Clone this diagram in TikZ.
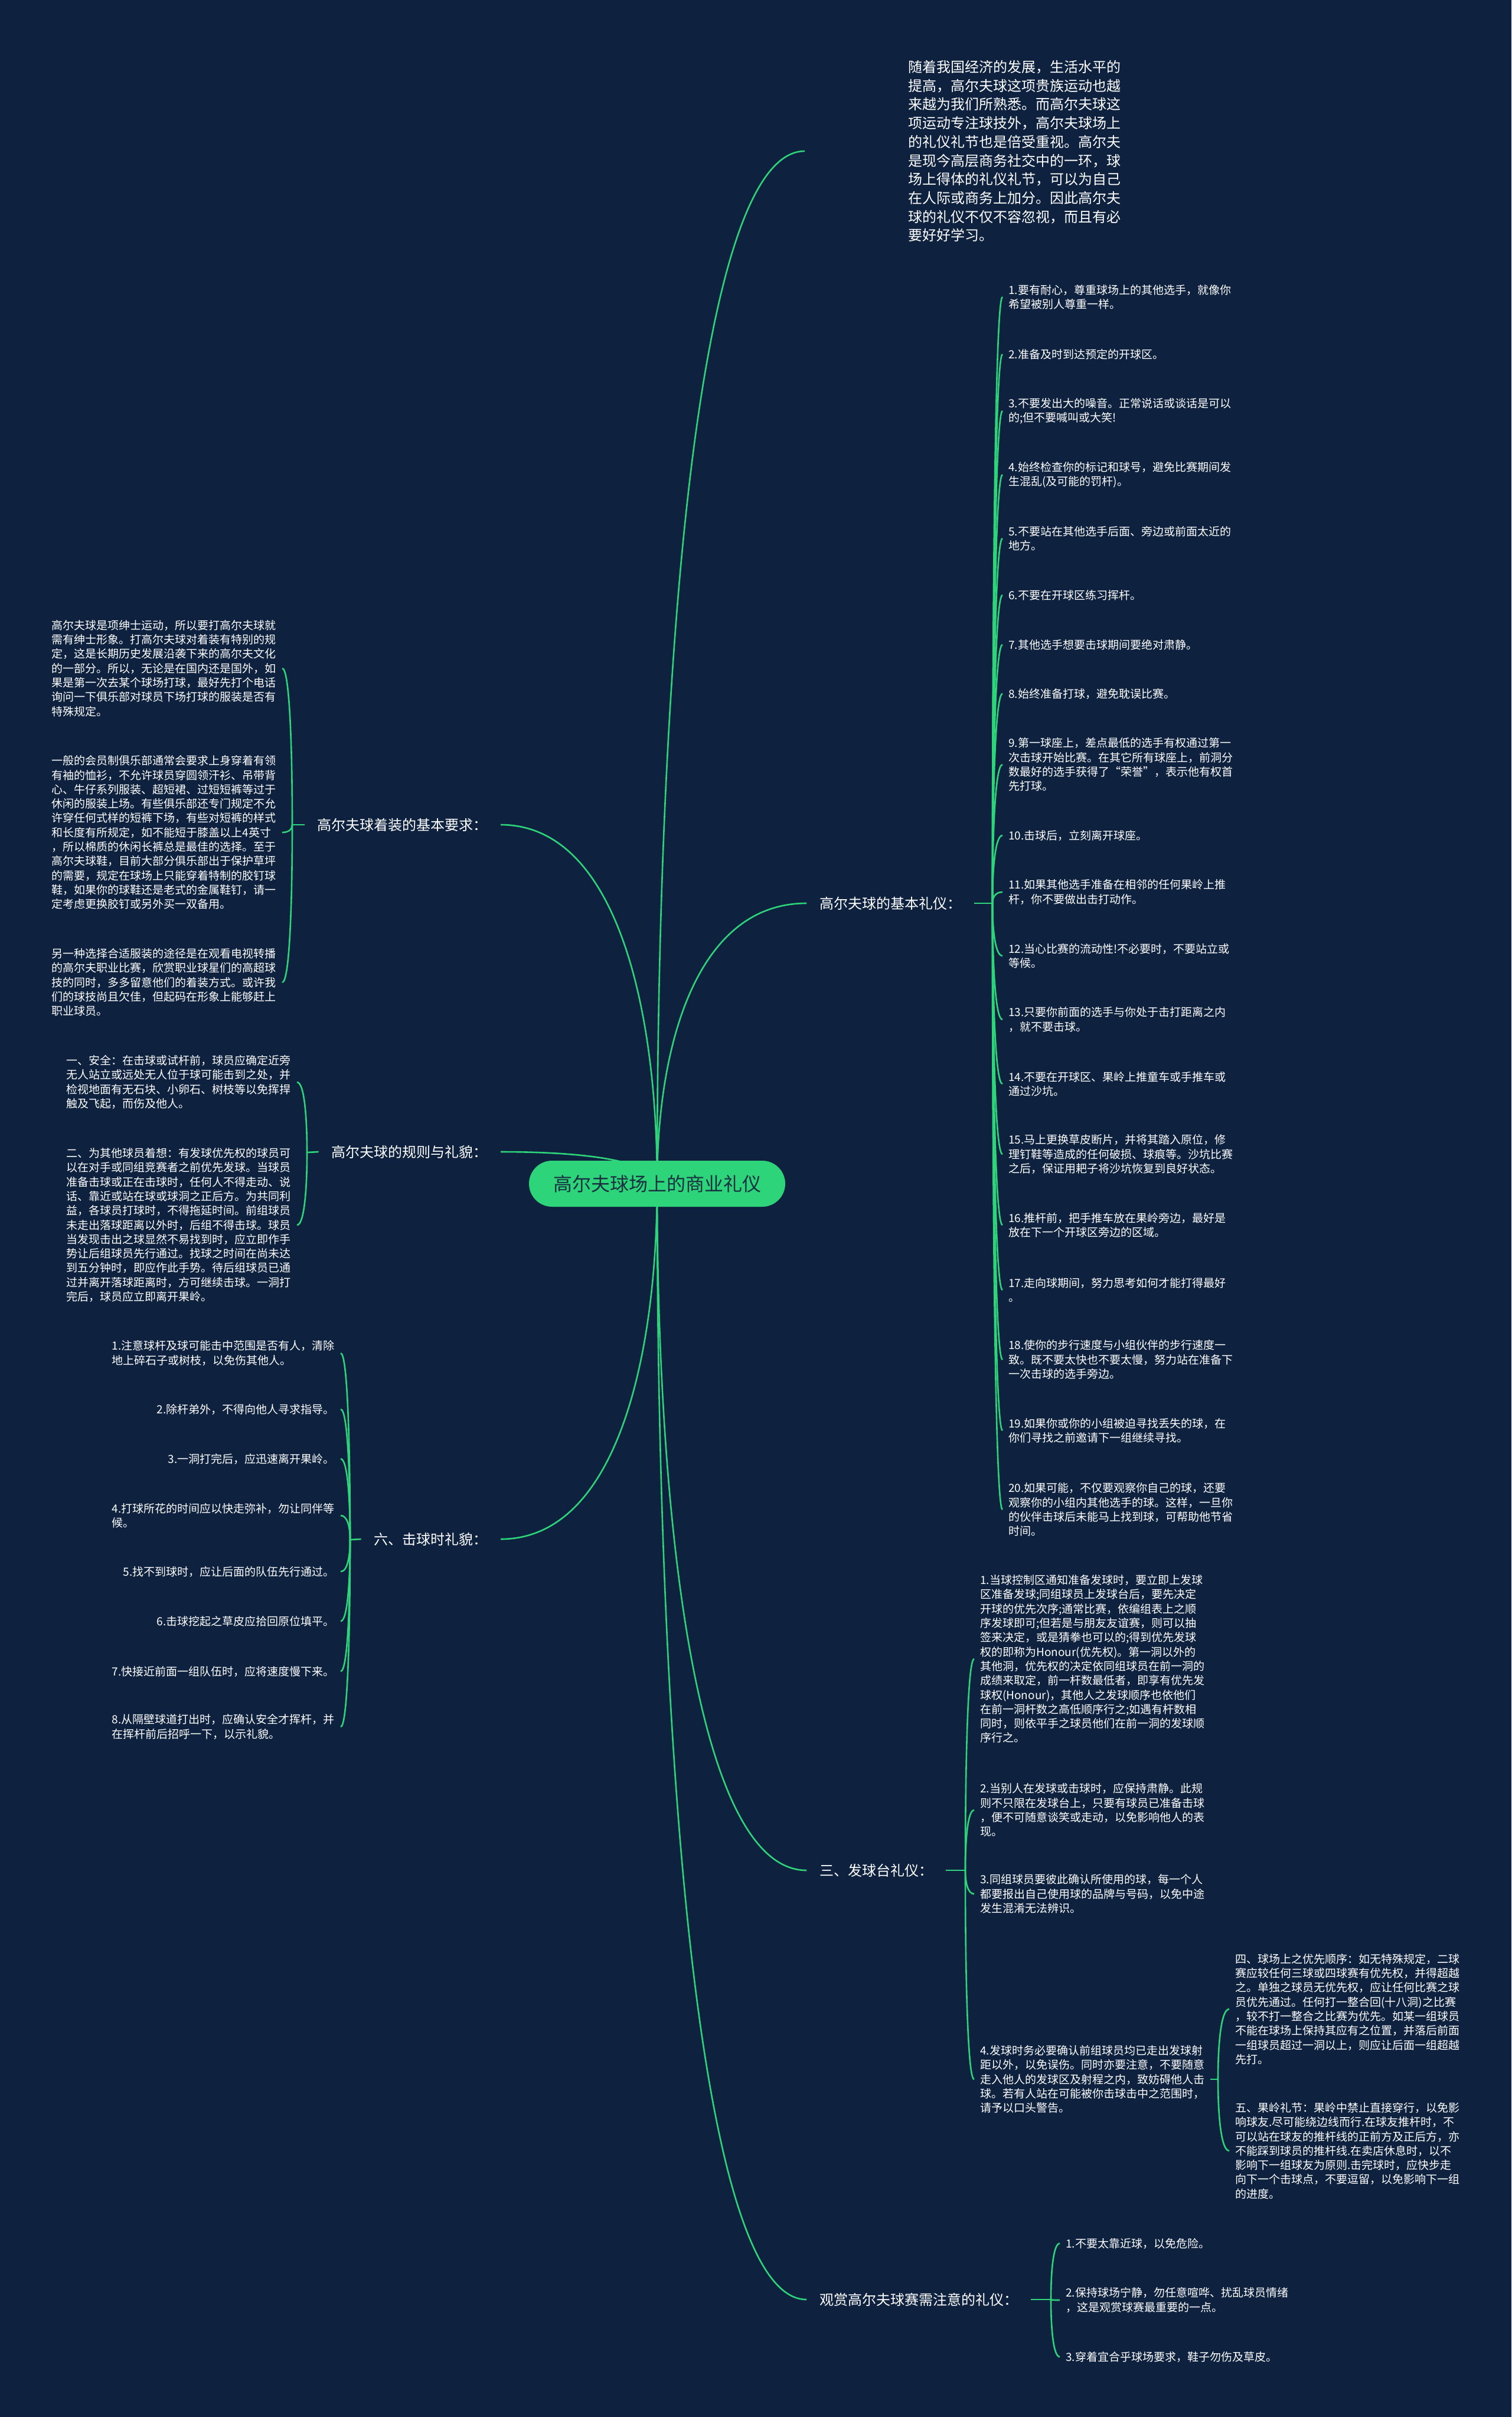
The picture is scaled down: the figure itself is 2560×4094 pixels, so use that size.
\documentclass[tikz,border=0pt]{standalone}
\usepackage{fontspec}
\setmainfont{Noto Sans CJK SC}
\usetikzlibrary{calc,backgrounds}
\definecolor{bg}{HTML}{0E2240}
\definecolor{ln}{HTML}{2ED47A}
\definecolor{rootfill}{HTML}{2ED47A}
\definecolor{roottext}{HTML}{183040}
\tikzset{
  conn/.style={draw=ln, line width=2.6pt},
  rootbox/.style={fill=rootfill, text=roottext, rounded corners=39pt, minimum width=434pt, minimum height=78pt, inner sep=0pt, font=\fontsize{32}{38}\selectfont},
  lbl/.style={text=white, inner xsep=22pt, inner ysep=0pt, font=\fontsize{24}{30}\selectfont},
  lblR/.style={lbl, anchor=west},
  lblL/.style={lbl, anchor=east},
  para/.style={text=white, align=left, anchor=west, inner xsep=175pt, inner ysep=0pt, font=\fontsize{24}{31.7}\selectfont},
  item/.style={text=white, align=left, inner xsep=10pt, inner ysep=0pt, font=\fontsize{19}{24.3}\selectfont},
  itemR/.style={item, anchor=west},
  itemL/.style={item, anchor=east}
}
\newcommand\mmcurve[2]{\draw[conn] let \p1=(#1), \p2=(#2) in (\p1) .. controls (\x1,{0.5*(\y1+\y2)}) and ({\x1+0.27*(\x2-\x1)},\y2) .. (\p2);}
\begin{document}
\begin{tikzpicture}[x=1pt,y=-1pt]
\useasboundingbox (0,0) rectangle (2560,4094);
% root
\node[rootbox] (root) at (1113,2005) {高尔夫球场上的商业礼仪};
% top paragraph
\node[para] (top) at (1363,256) {随着我国经济的发展，生活水平的\\提高，高尔夫球这项贵族运动也越\\来越为我们所熟悉。而高尔夫球这\\项运动专注球技外，高尔夫球场上\\的礼仪礼节也是倍受重视。高尔夫\\是现今高层商务社交中的一环，球\\场上得体的礼仪礼节，可以为自己\\在人际或商务上加分。因此高尔夫\\球的礼仪不仅不容忽视，而且有必\\要好好学习。};
% labels
\node[lblR] (bl) at (1366,1530) {高尔夫球的基本礼仪：};
\node[lblR] (sl) at (1366,3168) {三、发球台礼仪：};
\node[lblR] (gl) at (1366,3895) {观赏高尔夫球赛需注意的礼仪：};
\node[lblL] (zl) at (848,1397) {高尔夫球着装的基本要求：};
\node[lblL] (rl) at (848,1951) {高尔夫球的规则与礼貌：};
\node[lblL] (ll) at (848,2607) {六、击球时礼貌：};
% junctions
\coordinate (jb) at (1681,1530);
\coordinate (js) at (1635,3168);
\coordinate (jg) at (1780,3895);
\coordinate (jz) at (495,1397);
\coordinate (jr) at (520,1952);
\coordinate (jl) at (593,2608);
\coordinate (j4) at (2063,3522);
% basic etiquette items
\node[itemR] (b1) at (1698,503) {1.要有耐心，尊重球场上的其他选手，就像你\\希望被别人尊重一样。};
\node[itemR] (b2) at (1698,600) {2.准备及时到达预定的开球区。};
\node[itemR] (b3) at (1698,696) {3.不要发出大的噪音。正常说话或谈话是可以\\的;但不要喊叫或大笑!};
\node[itemR] (b4) at (1698,804) {4.始终检查你的标记和球号，避免比赛期间发\\生混乱(及可能的罚杆)。};
\node[itemR] (b5) at (1698,912) {5.不要站在其他选手后面、旁边或前面太近的\\地方。};
\node[itemR] (b6) at (1698,1008) {6.不要在开球区练习挥杆。};
\node[itemR] (b7) at (1698,1092) {7.其他选手想要击球期间要绝对肃静。};
\node[itemR] (b8) at (1698,1175) {8.始终准备打球，避免耽误比赛。};
\node[itemR] (b9) at (1698,1295) {9.第一球座上，差点最低的选手有权通过第一\\次击球开始比赛。在其它所有球座上，前洞分\\数最好的选手获得了“荣誉”，表示他有权首\\先打球。};
\node[itemR] (b10) at (1698,1415) {10.击球后，立刻离开球座。};
\node[itemR] (b11) at (1698,1511) {11.如果其他选手准备在相邻的任何果岭上推\\杆，你不要做出击打动作。};
\node[itemR] (b12) at (1698,1619) {12.当心比赛的流动性!不必要时，不要站立或\\等候。};
\node[itemR] (b13) at (1698,1727) {13.只要你前面的选手与你处于击打距离之内\\，就不要击球。};
\node[itemR] (b14) at (1698,1836) {14.不要在开球区、果岭上推童车或手推车或\\通过沙坑。};
\node[itemR] (b15) at (1698,1955) {15.马上更换草皮断片，并将其踏入原位，修\\理钉鞋等造成的任何破损、球痕等。沙坑比赛\\之后，保证用耙子将沙坑恢复到良好状态。};
\node[itemR] (b16) at (1698,2075) {16.推杆前，把手推车放在果岭旁边，最好是\\放在下一个开球区旁边的区域。};
\node[itemR] (b17) at (1698,2185) {17.走向球期间，努力思考如何才能打得最好\\。};
\node[itemR] (b18) at (1698,2303) {18.使你的步行速度与小组伙伴的步行速度一\\致。既不要太快也不要太慢，努力站在准备下\\一次击球的选手旁边。};
\node[itemR] (b19) at (1698,2423) {19.如果你或你的小组被迫寻找丢失的球，在\\你们寻找之前邀请下一组继续寻找。};
\node[itemR] (b20) at (1698,2557) {20.如果可能，不仅要观察你自己的球，还要\\观察你的小组内其他选手的球。这样，一旦你\\的伙伴击球后未能马上找到球，可帮助他节省\\时间。};
% tee etiquette
\node[itemR] (c1) at (1650,2810) {1.当球控制区通知准备发球时，要立即上发球\\区准备发球;同组球员上发球台后，要先决定\\开球的优先次序;通常比赛，依编组表上之顺\\序发球即可;但若是与朋友友谊赛，则可以抽\\签来决定，或是猜拳也可以的;得到优先发球\\权的即称为Honour(优先权)。第一洞以外的\\其他洞，优先权的决定依同组球员在前一洞的\\成绩来取定，前一杆数最低者，即享有优先发\\球权(Honour)，其他人之发球顺序也依他们\\在前一洞杆数之高低顺序行之;如遇有杆数相\\同时，则依平手之球员他们在前一洞的发球顺\\序行之。};
\node[itemR] (c2) at (1650,3066) {2.当别人在发球或击球时，应保持肃静。此规\\则不只限在发球台上，只要有球员已准备击球\\，便不可随意谈笑或走动，以免影响他人的表\\现。};
\node[itemR] (c3) at (1650,3208) {3.同组球员要彼此确认所使用的球，每一个人\\都要报出自己使用球的品牌与号码，以免中途\\发生混淆无法辨识。};
\node[itemR] (c4) at (1650,3522) {4.发球时务必要确认前组球员均已走出发球射\\距以外，以免误伤。同时亦要注意，不要随意\\走入他人的发球区及射程之内，致妨碍他人击\\球。若有人站在可能被你击球击中之范围时，\\请予以口头警告。};
\node[itemR] (c5) at (2082,3403) {四、球场上之优先顺序：如无特殊规定，二球\\赛应较任何三球或四球赛有优先权，并得超越\\之。单独之球员无优先权，应让任何比赛之球\\员优先通过。任何打一整合回(十八洞)之比赛\\，较不打一整合之比赛为优先。如某一组球员\\不能在球场上保持其应有之位置，并落后前面\\一组球员超过一洞以上，则应让后面一组超越\\先打。};
\node[itemR] (c6) at (2082,3643) {五、果岭礼节：果岭中禁止直接穿行，以免影\\响球友.尽可能绕边线而行.在球友推杆时，不\\可以站在球友的推杆线的正前方及正后方，亦\\不能踩到球员的推杆线.在卖店休息时，以不\\影响下一组球友为原则.击完球时，应快步走\\向下一个击球点，不要逗留，以免影响下一组\\的进度。};
% spectators
\node[itemR] (d1) at (1795,3800) {1.不要太靠近球，以免危险。};
\node[itemR] (d2) at (1795,3896) {2.保持球场宁静，勿任意喧哗、扰乱球员情绪\\，这是观赏球赛最重要的一点。};
\node[itemR] (d3) at (1795,3992) {3.穿着宜合乎球场要求，鞋子勿伤及草皮。};
% dress
\node[itemL] (z1) at (478,1132) {高尔夫球是项绅士运动，所以要打高尔夫球就\\需有绅士形象。打高尔夫球对着装有特别的规\\定，这是长期历史发展沿袭下来的高尔夫文化\\的一部分。所以，无论是在国内还是国外，如\\果是第一次去某个球场打球，最好先打个电话\\询问一下俱乐部对球员下场打球的服装是否有\\特殊规定。};
\node[itemL] (z2) at (478,1410) {一般的会员制俱乐部通常会要求上身穿着有领\\有袖的恤衫，不允许球员穿圆领汗衫、吊带背\\心、牛仔系列服装、超短裙、过短短裤等过于\\休闲的服装上场。有些俱乐部还专门规定不允\\许穿任何式样的短裤下场，有些对短裤的样式\\和长度有所规定，如不能短于膝盖以上4英寸\\，所以棉质的休闲长裤总是最佳的选择。至于\\高尔夫球鞋，目前大部分俱乐部出于保护草坪\\的需要，规定在球场上只能穿着特制的胶钉球\\鞋，如果你的球鞋还是老式的金属鞋钉，请一\\定考虑更换胶钉或另外买一双备用。};
\node[itemL] (z3) at (478,1664) {另一种选择合适服装的途径是在观看电视转播\\的高尔夫职业比赛，欣赏职业球星们的高超球\\技的同时，多多留意他们的着装方式。或许我\\们的球技尚且欠佳，但起码在形象上能够赶上\\职业球员。};
% rules
\node[itemL] (r1) at (503,1833) {一、安全：在击球或试杆前，球员应确定近旁\\无人站立或远处无人位于球可能击到之处，并\\检视地面有无石块、小卵石、树枝等以免挥捍\\触及飞起，而伤及他人。};
\node[itemL] (r2) at (503,2075) {二、为其他球员着想：有发球优先权的球员可\\以在对手或同组竞赛者之前优先发球。当球员\\准备击球或正在击球时，任何人不得走动、说\\话、靠近或站在球或球洞之正后方。为共同利\\益，各球员打球时，不得拖延时间。前组球员\\未走出落球距离以外时，后组不得击球。球员\\当发现击出之球显然不易找到时，应立即作手\\势让后组球员先行通过。找球之时间在尚未达\\到五分钟时，即应作此手势。待后组球员已通\\过并离开落球距离时，方可继续击球。一洞打\\完后，球员应立即离开果岭。};
% hitting
\node[itemL] (l1) at (577,2292) {1.注意球杆及球可能击中范围是否有人，清除\\地上碎石子或树枝，以免伤其他人。};
\node[itemL] (l2) at (577,2387) {2.除杆弟外，不得向他人寻求指导。};
\node[itemL] (l3) at (577,2471) {3.一洞打完后，应迅速离开果岭。};
\node[itemL] (l4) at (577,2567) {4.打球所花的时间应以快走弥补，勿让同伴等\\候。};
\node[itemL] (l5) at (577,2662) {5.找不到球时，应让后面的队伍先行通过。};
\node[itemL] (l6) at (577,2746) {6.击球挖起之草皮应拾回原位填平。};
\node[itemL] (l7) at (577,2831) {7.快接近前面一组队伍时，应将速度慢下来。};
\node[itemL] (l8) at (577,2925) {8.从隔壁球道打出时，应确认安全才挥杆，并\\在挥杆前后招呼一下，以示礼貌。};
\begin{pgfonlayer}{background}
\fill[bg] (0,0) rectangle (2560,4094);
\mmcurve{root.center}{top.west}
\mmcurve{root.center}{bl.west}
\mmcurve{root.center}{sl.west}
\mmcurve{root.center}{gl.west}
\mmcurve{root.center}{zl.east}
\mmcurve{root.center}{rl.east}
\mmcurve{root.center}{ll.east}
\draw[conn] (bl.east) -- (jb);
\draw[conn] (sl.east) -- (js);
\draw[conn] (gl.east) -- (jg);
\draw[conn] (zl.west) -- (jz);
\draw[conn] (rl.west) -- (jr);
\draw[conn] (ll.west) -- (jl);
\draw[conn] (c4.east) -- (j4);
\foreach \i in {1,...,20} {\mmcurve{jb}{b\i.west}}
\foreach \i in {1,...,4} {\mmcurve{js}{c\i.west}}
\mmcurve{j4}{c5.west}
\mmcurve{j4}{c6.west}
\foreach \i in {1,...,3} {\mmcurve{jg}{d\i.west}}
\foreach \i in {1,...,3} {\mmcurve{jz}{z\i.east}}
\foreach \i in {1,2} {\mmcurve{jr}{r\i.east}}
\foreach \i in {1,...,8} {\mmcurve{jl}{l\i.east}}
\end{pgfonlayer}
\end{tikzpicture}
\end{document}
